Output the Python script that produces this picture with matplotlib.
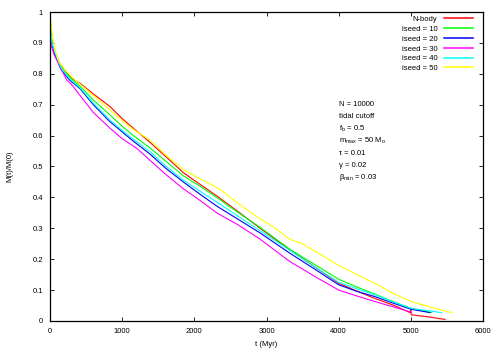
import matplotlib
matplotlib.use("Agg")
import matplotlib.pyplot as plt

plt.rcParams['font.family'] = ['Liberation Sans', 'DejaVu Sans']
plt.rcParams['mathtext.default'] = 'regular'

# values (t in Myr, M(t)/M(0))
t_nbody = [0, 10, 25, 60, 162, 300, 416, 600, 831, 1000, 1154, 1386, 1600, 1847, 2080, 2309, 2600, 2910, 3325, 3700, 4000, 4250, 4500, 4750, 4990, 5000, 5005, 5250, 5473]
m_nbody = [1.0, 0.95, 0.89, 0.865, 0.823, 0.785, 0.769, 0.735, 0.694, 0.655, 0.624, 0.578, 0.533, 0.480, 0.442, 0.405, 0.355, 0.300, 0.230, 0.170, 0.122, 0.097, 0.073, 0.052, 0.027, 0.038, 0.020, 0.013, 0.005]

t_s10 = [0, 10, 28, 70, 160, 290, 416, 600, 831, 1000, 1154, 1386, 1600, 1847, 2080, 2309, 2600, 2910, 3325, 3700, 4000, 4250, 4500, 4750, 5000, 5290]
m_s10 = [1.0, 0.95, 0.90, 0.87, 0.82, 0.785, 0.760, 0.715, 0.667, 0.630, 0.600, 0.560, 0.518, 0.470, 0.436, 0.400, 0.352, 0.303, 0.232, 0.178, 0.135, 0.110, 0.087, 0.063, 0.041, 0.027]

t_s20 = [0, 10, 25, 65, 150, 270, 416, 600, 831, 1000, 1154, 1386, 1600, 1847, 2080, 2309, 2600, 2910, 3325, 3700, 4000, 4250, 4500, 4750, 5000, 5265]
m_s20 = [1.0, 0.95, 0.895, 0.865, 0.815, 0.78, 0.752, 0.700, 0.645, 0.612, 0.582, 0.540, 0.495, 0.450, 0.410, 0.372, 0.330, 0.285, 0.219, 0.163, 0.117, 0.096, 0.079, 0.058, 0.038, 0.027]

t_s30 = [0, 8, 22, 60, 139, 231, 300, 416, 600, 831, 1000, 1201, 1386, 1600, 1847, 2080, 2309, 2600, 2910, 3325, 3700, 4000, 4250, 4500, 4750, 5011]
m_s30 = [1.0, 0.95, 0.888, 0.86, 0.823, 0.780, 0.765, 0.730, 0.675, 0.624, 0.590, 0.559, 0.520, 0.475, 0.428, 0.390, 0.350, 0.312, 0.265, 0.192, 0.140, 0.100, 0.081, 0.063, 0.046, 0.028]

t_s40 = [0, 10, 27, 70, 155, 280, 416, 600, 831, 1000, 1154, 1386, 1600, 1847, 2080, 2309, 2600, 2910, 3325, 3700, 4000, 4250, 4500, 4750, 5000, 5427]
m_s40 = [1.0, 0.95, 0.90, 0.868, 0.818, 0.782, 0.755, 0.705, 0.650, 0.617, 0.588, 0.548, 0.502, 0.456, 0.420, 0.385, 0.340, 0.292, 0.228, 0.170, 0.125, 0.104, 0.085, 0.062, 0.041, 0.027]

t_s50 = [0, 23, 69, 120, 208, 346, 500, 831, 1000, 1154, 1386, 1600, 1847, 2080, 2355, 2600, 2900, 3094, 3325, 3500, 3700, 4000, 4250, 4500, 4750, 5000, 5300, 5566]
m_s50 = [1.0, 0.942, 0.877, 0.84, 0.812, 0.780, 0.750, 0.683, 0.648, 0.620, 0.585, 0.538, 0.490, 0.460, 0.426, 0.382, 0.332, 0.305, 0.264, 0.250, 0.222, 0.180, 0.150, 0.122, 0.090, 0.063, 0.043, 0.027]

series = [
    (t_nbody, m_nbody, 'N-body', '#ff0000'),
    (t_s10, m_s10, 'iseed = 10', '#00ff00'),
    (t_s20, m_s20, 'iseed = 20', '#0000ff'),
    (t_s30, m_s30, 'iseed = 30', '#ff00ff'),
    (t_s40, m_s40, 'iseed = 40', '#00ffff'),
    (t_s50, m_s50, 'iseed = 50', '#ffff00'),
]

info_lines = [
    'N = 10000',
    'tidal cutoff',
    'f$_b$ = 0.5',
    'm$_{max}$ = 50 M$_o$',
    'τ = 0.01',
    'γ = 0.02',
    'β$_{min}$ = 0.03',
]

fig = plt.figure(figsize=(5, 3.5), dpi=100)
ax = fig.add_axes([0.1, 0.083, 0.866, 0.8827])

for t, m, lab, col in series:
    ax.plot(t, m, color=col, lw=0.8, label=lab)

ax.set_xlim(0, 6000)
ax.set_ylim(0, 1)
ax.set_xticks(range(0, 6001, 1000))
ax.set_yticks([i / 10 for i in range(11)])
ax.set_yticklabels(['0', '0.1', '0.2', '0.3', '0.4', '0.5', '0.6', '0.7', '0.8', '0.9', '1'])
ax.tick_params(direction='in', length=3, width=0.6, labelsize=5.5, top=True, right=True)
ax.tick_params(axis='x', pad=5)
ax.tick_params(axis='y', pad=5)
for s in ax.spines.values():
    s.set_linewidth(0.9)

ax.set_xlabel('t (Myr)', fontsize=5.5, labelpad=4.5)
ax.set_ylabel('M(t)/M(0)', fontsize=5.5, labelpad=14)

leg = ax.legend(loc='upper right', frameon=False, fontsize=5.5, markerfirst=False,
                handlelength=3.7, handletextpad=0.9, labelspacing=0.32,
                borderaxespad=0.1, bbox_to_anchor=(0.985, 1.0))
for h in leg.get_lines():
    h.set_linewidth(1.1)

y0 = 0.70
for i, line in enumerate(info_lines):
    ax.text(0.668, y0 - i * 0.0395, line, transform=ax.transAxes, fontsize=5.5,
            va='center', ha='left')

fig.savefig('out.png', dpi=100)
